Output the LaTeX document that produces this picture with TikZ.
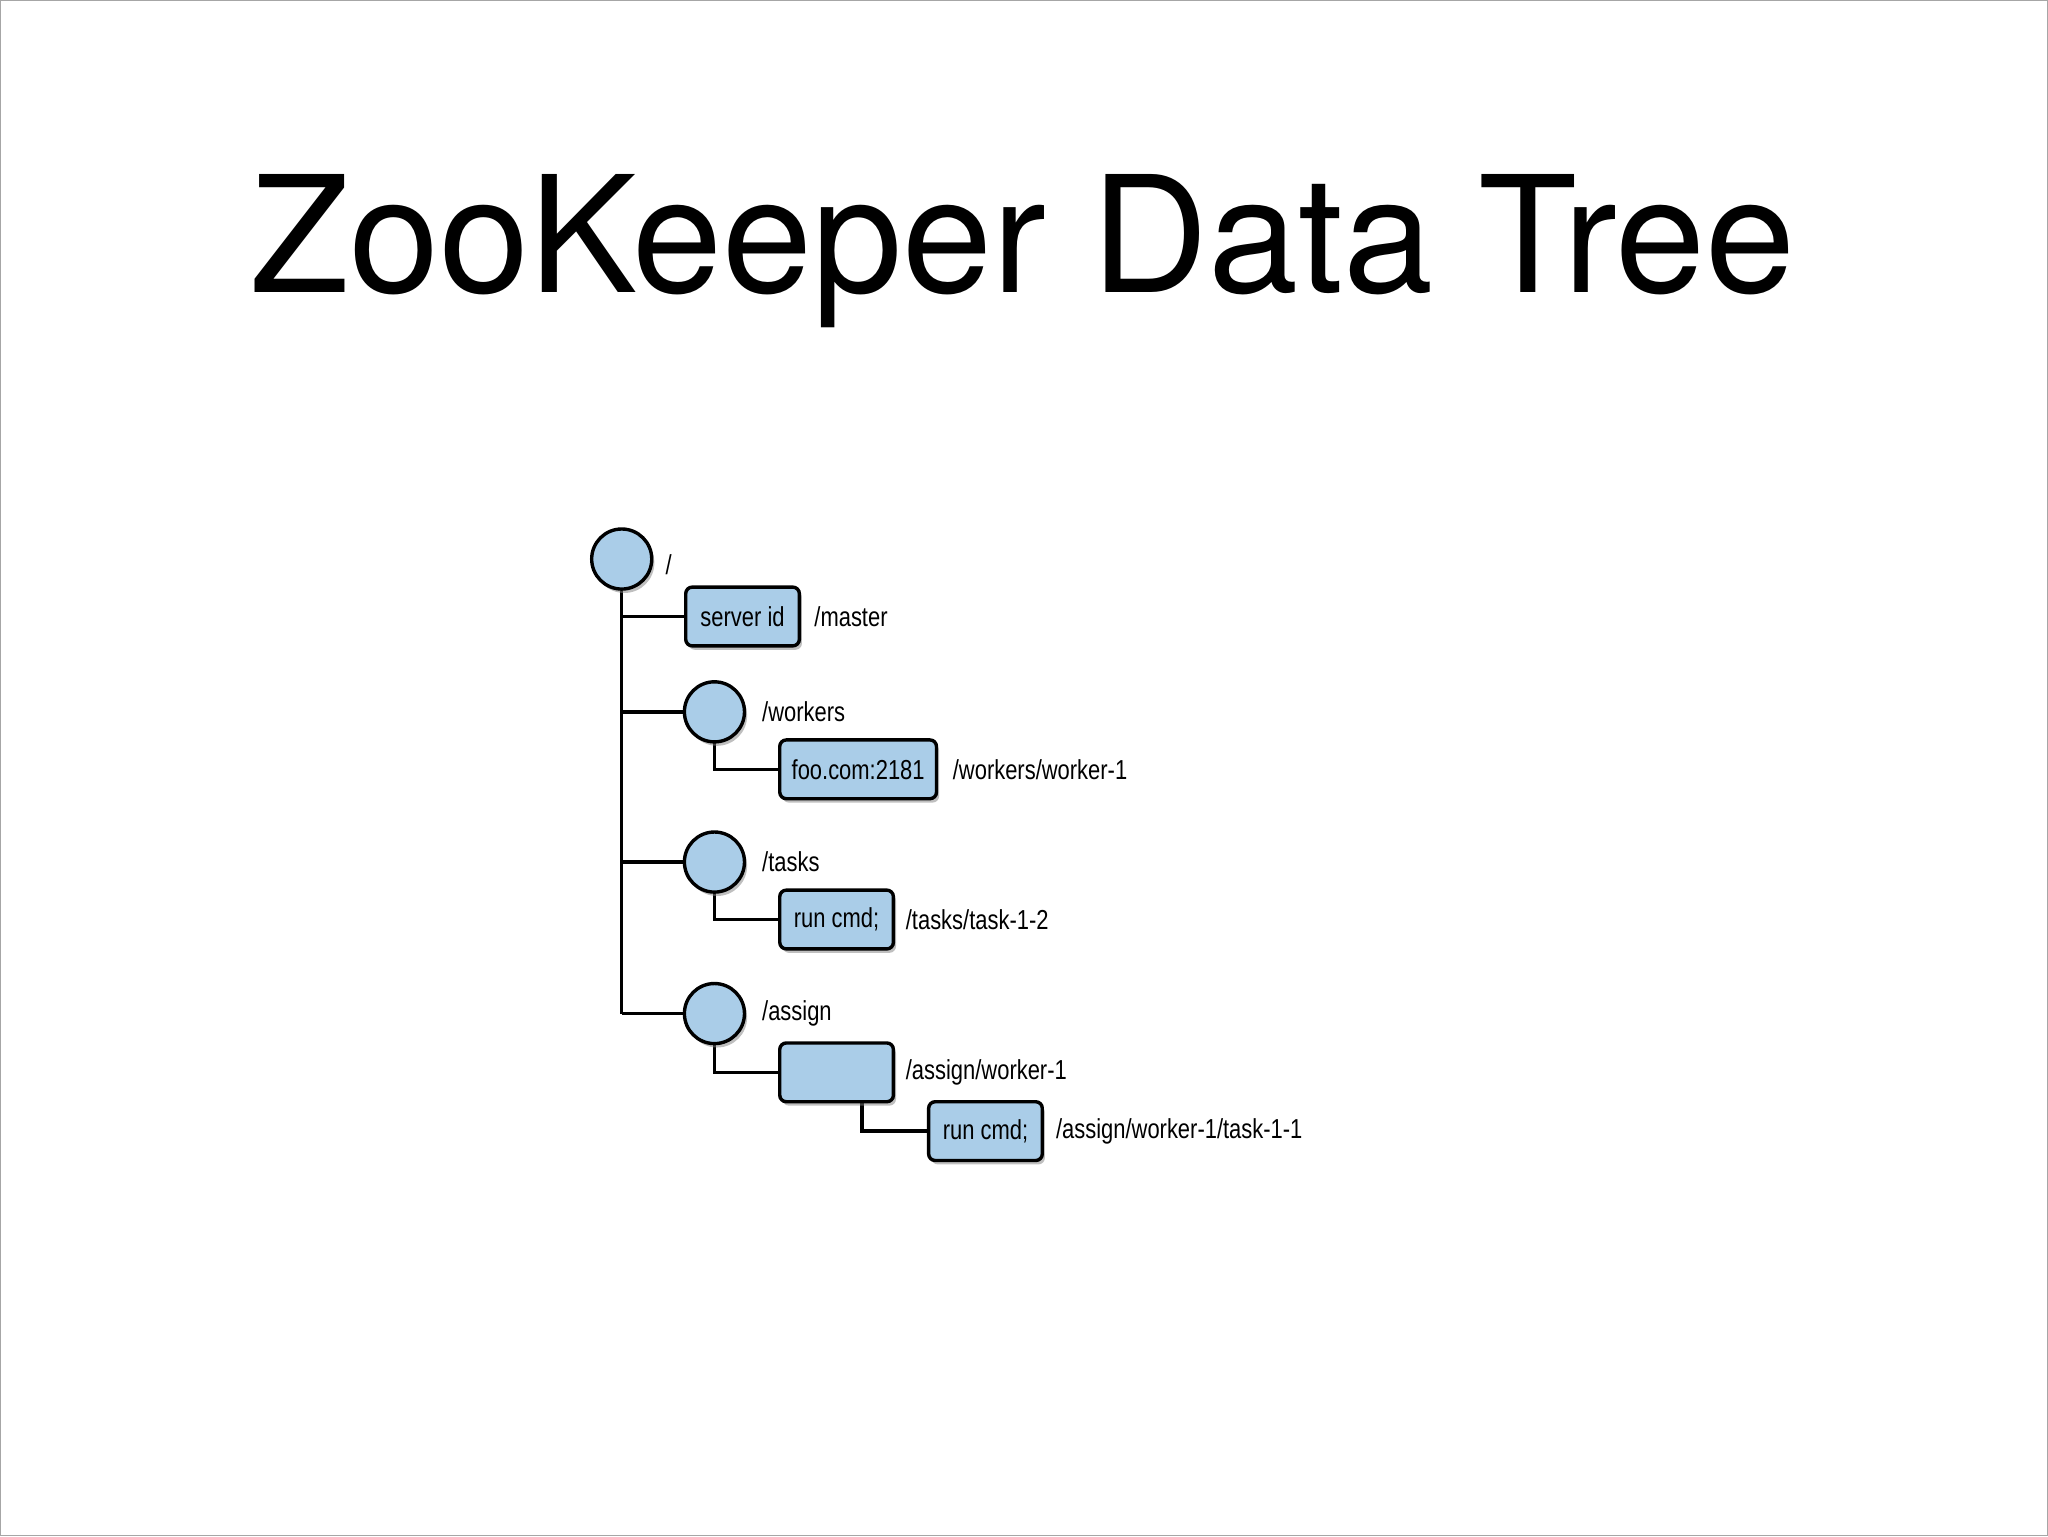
\documentclass[tikz,border=0pt]{standalone}
\usepackage{fontspec}
\setmainfont{TeX Gyre Heros}
\newfontfamily\lab{Liberation Sans}
\usetikzlibrary{shadows}
\definecolor{nodeblue}{RGB}{170,205,232}
\begin{document}
\begin{tikzpicture}[x=1pt,y=-1pt,
  zk/.style={draw=black,line width=2.6pt,fill=nodeblue,drop shadow={shadow xshift=2pt,shadow yshift=-3pt,opacity=0.5}},
  circ/.style={zk,circle,minimum size=46pt,inner sep=0pt},
  bx/.style={zk,rounded corners=5pt,minimum height=45pt,inner sep=0pt,font=\lab\fontsize{21}{21}\selectfont\addfontfeature{FakeStretch=0.8}},
  lbl/.style={anchor=west,font=\lab\fontsize{21}{21}\selectfont\addfontfeature{FakeStretch=0.8}},
  ln/.style={line width=2.6pt}]
\useasboundingbox (0,0) rectangle (1568,1176);
\draw[gray!70,line width=1pt] (0.5,0.5) rectangle (1567.5,1175.5);
\node[font=\fontsize{124}{124}\selectfont] (title) at (783,192) {ZooKeeper Data Tree};
% connectors first
\coordinate (vend) at (476,776);
\draw[ln] (476,428) -- (vend);
\draw[ln] (476,472) -- (525,472);
\draw[ln] (476,545) -- (524,545);
\draw[ln] (476,660) -- (524,660);
\draw[ln] (476,776) -- (524,776);
\draw[ln] (547,545) |- (597,589);
\draw[ln] (547,660) |- (597,704);
\draw[ln] (547,776) |- (597,821);
\draw[ln] (660,821) |- (711,866);
% nodes
\node[circ] (root) at (476,428) {};
\node[lbl] (rootl) at (506,432) {/};
\node[bx,minimum width=87pt] (master) at (568.5,472) {server id};
\node[lbl] (masterl) at (620,472) {/master};
\node[circ] (workers) at (547,545) {};
\node[lbl] (workersl) at (580,545) {/workers};
\node[bx,minimum width=120pt] (w1) at (657,589) {foo.com:2181};
\node[lbl] (w1l) at (726,589) {/workers/worker-1};
\node[circ] (tasks) at (547,660) {};
\node[lbl] (tasksl) at (580,660) {/tasks};
\node[bx,minimum width=87pt] (t1) at (640.5,704) {run cmd;};
\node[lbl] (t1l) at (690,704) {/tasks/task-1-2};
\node[circ] (assign) at (547,776) {};
\node[lbl] (assignl) at (580,776) {/assign};
\node[bx,minimum width=87pt] (aw) at (640.5,821) {};
\node[lbl] (awl) at (690,821) {/assign/worker-1};
\node[bx,minimum width=87pt] (at) at (754.5,866) {run cmd;};
\node[lbl] (atl) at (805,866) {/assign/worker-1/task-1-1};
\end{tikzpicture}
\end{document}
